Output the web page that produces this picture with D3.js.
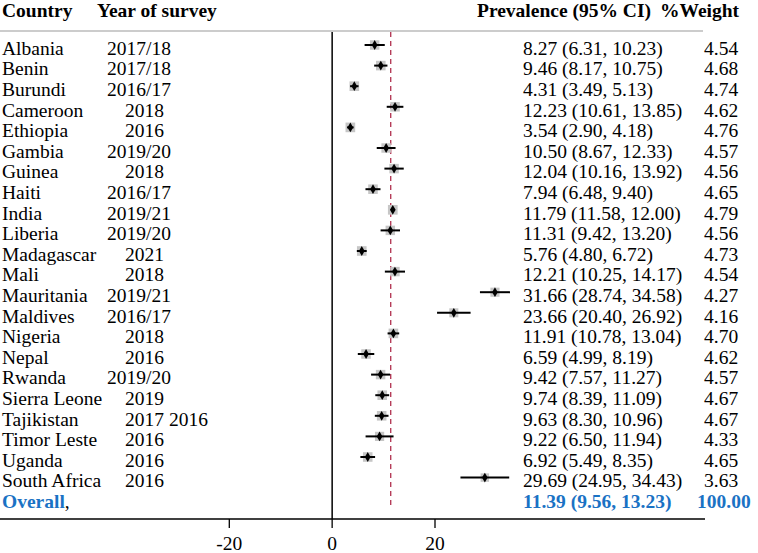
<!DOCTYPE html>
<html><head><meta charset="utf-8">
<script src="https://cdn.jsdelivr.net/npm/d3@7"></script>
<style>html,body{margin:0;padding:0;background:#fff;}svg{display:block;}</style>
</head><body>
<script>
const countries = ["Albania","Benin","Burundi","Cameroon","Ethiopia","Gambia","Guinea","Haiti","India","Liberia","Madagascar","Mali","Mauritania","Maldives","Nigeria","Nepal","Rwanda","Sierra Leone","Tajikistan","Timor Leste","Uganda","South Africa"];
const years = ["2017/18","2017/18","2016/17","2018","2016","2019/20","2018","2016/17","2019/21","2019/20","2021","2018","2019/21","2016/17","2018","2016","2019/20","2019","2017 2016","2016","2016","2016"];
const estimates = [8.27,9.46,4.31,12.23,3.54,10.50,12.04,7.94,11.79,11.31,5.76,12.21,31.66,23.66,11.91,6.59,9.42,9.74,9.63,9.22,6.92,29.69];
const lower = [6.31,8.17,3.49,10.61,2.90,8.67,10.16,6.48,11.58,9.42,4.80,10.25,28.74,20.40,10.78,4.99,7.57,8.39,8.30,6.50,5.49,24.95];
const upper = [10.23,10.75,5.13,13.85,4.18,12.33,13.92,9.40,12.00,13.20,6.72,14.17,34.58,26.92,13.04,8.19,11.27,11.09,10.96,11.94,8.35,34.43];
const weights = [4.54,4.68,4.74,4.62,4.76,4.57,4.56,4.65,4.79,4.56,4.73,4.54,4.27,4.16,4.70,4.62,4.57,4.67,4.67,4.33,4.65,3.63];
const overall = {label:"Overall", est:11.39, lo:9.56, hi:13.23, weight:"100.00"};
const xTicks = [-20, 0, 20];
const headers = {country:"Country", year:"Year of survey", ci:"Prevalence (95% CI)", weight:"%Weight"};

const W = 758, H = 553;
const font = "'Liberation Serif','Times New Roman',serif";
const fs = 19.5;
const blue = "#1a72c4";

const svg = d3.select("body").append("svg").attr("width", W).attr("height", H)
  .style("font-family", font).style("font-size", fs + "px");

const x = d3.scaleLinear().domain([-20, 20]).range([229.3, 435]);
const rows = countries.concat([overall.label]);
const y = d3.scalePoint().domain(d3.range(rows.length)).range([45, 45 + 22 * 20.6]);
const axisY = 519;
const textOff = 9.8;

// header
svg.append("text").attr("x", 2).attr("y", 17).attr("font-weight", "bold").text(headers.country);
svg.append("text").attr("x", 97).attr("y", 17).attr("font-weight", "bold").text(headers.year);
svg.append("text").attr("x", 477).attr("y", 17).attr("font-weight", "bold").text(headers.ci);
svg.append("text").attr("x", 660).attr("y", 17).attr("font-weight", "bold").text(headers.weight);

// top grey rule
svg.append("line").attr("x1", 0).attr("x2", 703).attr("y1", 31).attr("y2", 31)
  .attr("stroke", "#cccccc").attr("stroke-width", 2);

// null line
svg.append("line").attr("x1", x(0)).attr("x2", x(0)).attr("y1", 32).attr("y2", axisY)
  .attr("stroke", "#000").attr("stroke-width", 1.5);

// overall dashed line
svg.append("line").attr("x1", x(overall.est)).attr("x2", x(overall.est)).attr("y1", 32).attr("y2", 509)
  .attr("stroke", "#b0304f").attr("stroke-width", 1.3).attr("stroke-dasharray", "5,4");

// bottom axis
const axis = svg.append("g").attr("transform", `translate(0,${axisY})`);
axis.append("line").attr("x1", 0).attr("x2", 705).attr("y1", 0).attr("y2", 0)
  .attr("stroke", "#000").attr("stroke-width", 1.3);
axis.selectAll("line.tick").data(xTicks).join("line").attr("class", "tick")
  .attr("x1", d => x(d)).attr("x2", d => x(d)).attr("y1", 0).attr("y2", 9)
  .attr("stroke", "#000").attr("stroke-width", 1.3);
axis.selectAll("text.tl").data(xTicks).join("text").attr("class", "tl")
  .attr("x", d => x(d)).attr("y", 31).attr("text-anchor", "middle").text(d => d);

// study rows
const data = countries.map((c, i) => ({c, yr: years[i], est: estimates[i], lo: lower[i], hi: upper[i], w: weights[i], i}));
const g = svg.append("g");
data.forEach(d => {
  const yy = y(d.i);
  const side = 9.5 * Math.sqrt(d.w / 4.6);
  g.append("rect").attr("x", x(d.est) - side / 2).attr("y", yy - side / 2)
    .attr("width", side).attr("height", side).attr("fill", "#c6c6c6");
  g.append("line").attr("x1", x(d.lo)).attr("x2", x(d.hi)).attr("y1", yy).attr("y2", yy)
    .attr("stroke", "#000").attr("stroke-width", 2);
  g.append("path").attr("transform", `translate(${x(d.est)},${yy})`)
    .attr("d", d3.symbol(d3.symbolDiamond, 28)()).attr("fill", "#000");
  const ty = yy + textOff;
  g.append("text").attr("x", 2).attr("y", ty).text(d.c);
  g.append("text").attr("x", d.yr.includes("/") ? 107 : 125).attr("y", ty).text(d.yr);
  g.append("text").attr("x", 523).attr("y", ty).text(`${d.est.toFixed(2)} (${d.lo.toFixed(2)}, ${d.hi.toFixed(2)})`);
  g.append("text").attr("x", 704).attr("y", ty).text(d.w.toFixed(2));
});

// overall row
const oy = y(rows.length - 1) + textOff - 0.5;
const ot = svg.append("text").attr("x", 2).attr("y", oy);
ot.append("tspan").attr("fill", blue).attr("font-weight", "bold").text(overall.label);
ot.append("tspan").attr("fill", "#000").text(",");
svg.append("text").attr("x", 523).attr("y", oy).attr("fill", blue).attr("font-weight", "bold")
  .text(`${overall.est.toFixed(2)} (${overall.lo.toFixed(2)}, ${overall.hi.toFixed(2)})`);
svg.append("text").attr("x", 697).attr("y", oy).attr("fill", blue).attr("font-weight", "bold")
  .text(overall.weight);
</script>
</body></html>
